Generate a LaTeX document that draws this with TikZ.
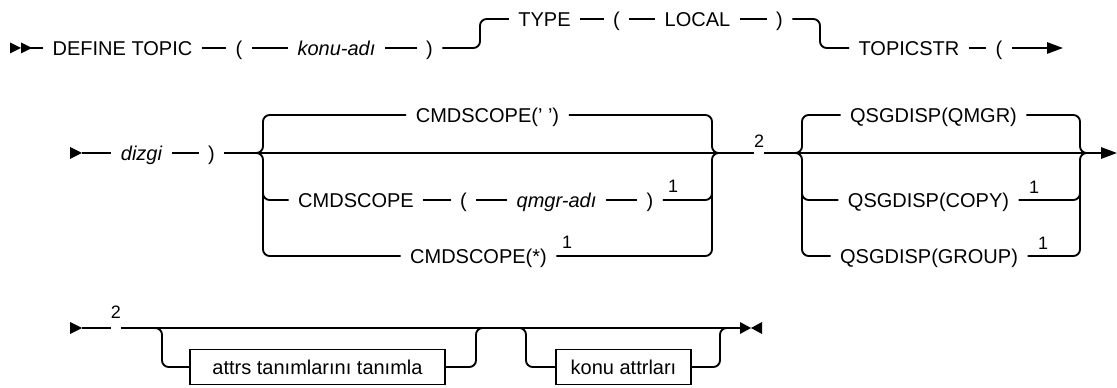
\documentclass[tikz,border=0pt]{standalone}
\usepackage{fontspec}
\setmainfont{Liberation Sans}
\usetikzlibrary{arrows.meta}

\begin{document}
\begin{tikzpicture}[
    x=0.75pt, y=-0.75pt,
    font=\fontsize{15}{18}\selectfont,
    tok/.style={inner xsep=7pt, inner ysep=0pt, text height=10.7pt, text depth=0pt},
    param/.style={tok, font=\fontsize{15}{18}\selectfont\itshape},
    fnote/.style={inner sep=0pt, font=\fontsize{13.5}{15}\selectfont},
    gap/.style={inner sep=0pt, minimum width=7pt},
    defbox/.style={draw, line width=1.4pt, inner sep=0pt, text height=10.7pt, text depth=0pt, minimum height=26.25pt},
    rail/.style={line width=1.4pt, rounded corners=5pt},
    cont/.style={rail, -{Triangle[length=12pt, width=8.5pt]}}
]
  \useasboundingbox (0,0) rectangle (1117,388);

  % First line: name and type.
  \fill (10,42.5) -- (10,53.5) -- (21,48) -- cycle;
  \fill (21,42.5) -- (21,53.5) -- (32,48) -- cycle;
  \coordinate (s1) at (21,48);
  \node[tok] (def) at (122.5,48) {DEFINE TOPIC};
  \node[tok] (lp1) at (239,48) {(};
  \node[param] (konu) at (336.5,48) {konu-adı};
  \node[tok] (rp1) at (429.5,48) {)};
  \node[tok] (type) at (544.5,19) {TYPE};
  \node[tok] (lp2) at (616.5,19) {(};
  \node[tok] (local) at (697.5,19) {LOCAL};
  \node[tok] (rp2) at (779.5,19) {)};
  \node[tok] (tstr) at (909,48) {TOPICSTR};
  \node[tok] (lp3) at (999,48) {(};
  \coordinate (e1) at (1063,48);
  \foreach \a/\b in {s1/def, def/lp1, lp1/konu, konu/rp1, type/lp2, lp2/local, local/rp2, tstr/lp3}
    \draw[rail] (\a) -- (\b);
  \draw[rail] (rp1) -- (480,48) |- (type);
  \draw[rail] (rp2) -| (820,48) -- (tstr);
  \draw[cont] (lp3) -- (e1);

  % Second line: string, CMDSCOPE and QSGDISP choices.
  \fill (70,147) -- (70,159) -- (82,153) -- cycle;
  \coordinate (s2) at (82,153);
  \node[param] (dizgi) at (141.5,153) {dizgi};
  \node[tok] (rp3) at (211.5,153) {)};
  \coordinate (b1) at (255,153);
  \coordinate (m1) at (720,153);
  \node[tok] (cs1) at (487.5,115) {CMDSCOPE(' ')};
  \node[tok] (cs2) at (356,200) {CMDSCOPE};
  \node[tok] (lp4) at (463.5,200) {(};
  \node[param] (qm) at (556.5,200) {qmgr-adı};
  \node[tok] (rp4) at (650,200) {)};
  \node[tok] (cs3) at (478.5,256) {CMDSCOPE(*)};
  \node[gap] (g1) at (759,153) {};
  \node[fnote] (two1) at (759,141) {2};
  \coordinate (b2) at (795,153);
  \coordinate (m2) at (1087,153);
  \node[tok] (q1) at (933.5,115) {QSGDISP(QMGR)};
  \node[tok] (q2) at (928.5,200) {QSGDISP(COPY)};
  \node[tok] (q3) at (929,256) {QSGDISP(GROUP)};
  \coordinate (e2) at (1117,153);
  \foreach \x/\y [count=\k] in {673/186, 567/242, 1034/187, 1043/243}
    \node[fnote] (one\k) at (\x,\y) {1};
  \foreach \a/\b in {s2/dizgi, dizgi/rp3, rp3/g1, cs2/lp4, lp4/qm, qm/rp4}
    \draw[rail] (\a) -- (\b);
  \draw[cont] (g1) -- (e2);
  \draw[rail] (b1) -- (263,153) |- (cs1);
  \draw[rail] (b1) -- (263,153) |- (cs3);
  \draw[rail] (263,185) |- (cs2);
  \draw[rail] (cs1) -| (712,153) -- (m1);
  \draw[rail] (cs3) -| (712,153) -- (m1);
  \draw[rail] (rp4) -| (712,185);
  \draw[rail] (b2) -- (802,153) |- (q1);
  \draw[rail] (b2) -- (802,153) |- (q3);
  \draw[rail] (802,185) |- (q2);
  \draw[rail] (q1) -| (1080,153) -- (m2);
  \draw[rail] (q3) -| (1080,153) -- (m2);
  \draw[rail] (q2) -| (1080,185);

  % Third line: optional attribute groups.
  \fill (70,322) -- (70,334) -- (82,328) -- cycle;
  \coordinate (s3) at (82,328);
  \node[gap] (g2) at (116,328) {};
  \node[fnote] (two2) at (116,312) {2};
  \coordinate (o1) at (153,328);
  \coordinate (o1r) at (485,328);
  \coordinate (o2) at (518,328);
  \coordinate (o2r) at (730,328);
  \coordinate (e3) at (740,328);
  \node[defbox, minimum width=191.25pt] (attrs) at (317.5,367) {attrs tanımlarını tanımla};
  \node[defbox, minimum width=101.25pt] (tattr) at (623.5,367) {konu attrları};
  \draw[rail] (s3) -- (g2);
  \draw[rail] (g2) -- (e3);
  \draw[rail] (o1) -- (162,328) |- (attrs);
  \draw[rail] (attrs) -| (476,328) -- (o1r);
  \draw[rail] (o2) -- (526,328) |- (tattr);
  \draw[rail] (tattr) -| (720,328) -- (o2r);
  \fill (740,322) -- (740,334) -- (751,328) -- cycle;
  \fill (762,322) -- (762,334) -- (751,328) -- cycle;
\end{tikzpicture}
\end{document}
